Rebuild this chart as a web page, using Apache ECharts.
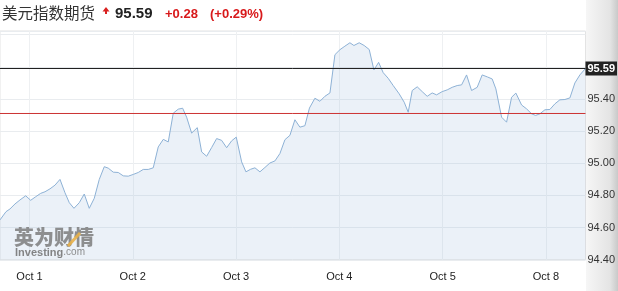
<!DOCTYPE html>
<html>
<head>
<meta charset="utf-8">
<script src="https://cdn.jsdelivr.net/npm/echarts@6/dist/echarts.min.js"></script>
<style>
html,body{margin:0;padding:0;background:#fff;}
#chart{width:618px;height:291px;}
</style>
</head>
<body>
<div id="chart"></div>
<script>
// ---- data ----
const titleText = '美元指数期货';
const lastPrice = 95.59;
const prevClose = 95.31;
const changeText = '+0.28';
const changePctText = '(+0.29%)';

// trading hours since Oct 1 00:00 (weekend compressed)
const times = [-6.85,-5.46,-4.53,-3.37,-2.21,-0.88,0.28,1.44,2.60,3.60,
4.76,5.92,7.09,8.25,9.25,10.34,11.57,12.73,13.89,15.05,
16.22,17.38,18.31,19.47,20.63,21.79,22.95,24.12,25.28,26.44,
27.60,28.76,29.92,31.09,32.25,33.41,34.57,35.59,36.52,37.68,
38.99,40.01,41.17,42.33,43.49,44.65,45.82,46.98,48.05,49.30,
50.30,51.39,52.39,53.55,54.71,55.87,57.04,58.20,59.36,60.52,
61.68,62.84,64.00,65.06,66.33,67.49,68.65,69.82,70.98,72.14,
73.30,74.46,75.39,76.62,77.78,78.95,80.04,81.13,82.20,83.36,
84.52,85.92,87.08,88.01,88.94,90.10,91.26,92.42,93.58,94.60,
95.90,97.07,98.23,99.39,100.41,101.57,102.73,104.04,105.20,106.45,
107.52,108.38,109.71,110.87,112.03,113.03,114.35,115.51,116.68,117.61,
118.61,119.77,120.93,122.09,123.25,124.42,125.58,126.74,127.90,129.2];

const prices = [94.648,94.699,94.716,94.747,94.772,94.798,94.770,94.792,94.813,94.823,
94.841,94.864,94.900,94.817,94.755,94.720,94.755,94.809,94.720,94.782,
94.900,94.979,94.970,94.945,94.943,94.922,94.920,94.931,94.943,94.962,
94.962,94.972,95.102,95.149,95.133,95.312,95.337,95.343,95.287,95.188,
95.222,95.071,95.044,95.098,95.154,95.143,95.097,95.140,95.163,95.009,
94.947,94.963,94.972,94.947,94.974,95.002,95.015,95.061,95.147,95.174,
95.271,95.225,95.234,95.344,95.405,95.386,95.417,95.438,95.676,95.707,
95.729,95.750,95.733,95.750,95.733,95.708,95.581,95.628,95.564,95.529,
95.484,95.432,95.380,95.318,95.453,95.476,95.446,95.417,95.438,95.426,
95.446,95.457,95.473,95.484,95.488,95.550,95.453,95.473,95.550,95.537,
95.525,95.463,95.287,95.256,95.411,95.437,95.363,95.339,95.308,95.298,
95.308,95.333,95.335,95.370,95.395,95.397,95.407,95.500,95.550,95.590];

const dayTicks = [0,24,48,72,96,120];
const dayLabels = ['Oct 1','Oct 2','Oct 3','Oct 4','Oct 5','Oct 8'];
const yTickLabels = ['94.40','94.60','94.80','95.00','95.20','95.40'];

// ---- chart ----
const chart = echarts.init(document.getElementById('chart'), null, {renderer:'canvas'});
const FONT = '"Liberation Sans", Arial, sans-serif';
const seriesData = times.map((t,i)=>[t, prices[i]]);
const xMin = times[0], xMax = times[times.length-1];

const option = {
  animation:false,
  backgroundColor:'#fff',
  textStyle:{fontFamily:FONT},
  grid:{left:0, right:32.5, top:31, bottom:31.25, show:true, backgroundColor:'#fff', borderColor:'#e3e3e3', borderWidth:1},
  xAxis:{
    type:'value', min:xMin, max:xMax,
    axisLine:{show:false},
    axisTick:{show:false, customValues:dayTicks},
    splitLine:{show:true, lineStyle:{color:'#eef0f2', width:1}},
    axisLabel:{customValues:dayTicks, color:'#222', fontSize:11, fontFamily:FONT, margin:12,
      formatter:(v)=>{const i=dayTicks.indexOf(v); return i>=0?dayLabels[i]:'';}}
  },
  yAxis:{
    type:'value', position:'right', min:94.4, max:95.8233, interval:0.2,
    axisLine:{show:false}, axisTick:{show:false},
    splitLine:{show:true, lineStyle:{color:'#e9ecef', width:1}},
    axisLabel:{color:'#333', fontSize:11, fontFamily:FONT, margin:2, showMaxLabel:false,
      formatter:(v)=>{const s=v.toFixed(2); return yTickLabels.indexOf(s)>=0?s:'';}}
  },
  series:[{
    type:'line', data:seriesData, showSymbol:false, smooth:false, z:2,
    lineStyle:{color:'#8db1d5', width:1},
    areaStyle:{color:'rgba(160,190,222,0.3)', origin:'start'}
  },{
    name:'prevClose', type:'line', data:[[xMin,prevClose],[xMax,prevClose]], showSymbol:false, z:3,
    lineStyle:{color:'#cc3333', width:1}, itemStyle:{color:'#cc3333'}
  },{
    name:'last', type:'line', data:[[xMin,lastPrice],[xMax,lastPrice]], showSymbol:false, z:4,
    lineStyle:{color:'#1e1e1e', width:1}, itemStyle:{color:'#1e1e1e'},
    endLabel:{show:true, distance:0, formatter:()=>lastPrice.toFixed(2),
      backgroundColor:'#222', color:'#fff', fontSize:11, fontWeight:'bold', fontFamily:FONT,
      padding:[2,2,1,2], borderRadius:0}
  }],
  graphic:[
    {type:'rect', z:-100, silent:true, shape:{x:586, y:0, width:32, height:291},
     style:{fill:new echarts.graphic.LinearGradient(0,0,1,0,[{offset:0,color:'#f6f6f6'},{offset:0.75,color:'#e4e4e4'},{offset:1,color:'#c9c9c9'}])}},
    {type:'text', left:2, top:5, style:{text:titleText, fill:'#333', font:'15.5px "Noto Sans CJK SC", sans-serif'}},
    {type:'polygon', shape:{points:[[102.5,11.5],[109.5,11.5],[106,7]]}, style:{fill:'#d9201f'}},
    {type:'rect', shape:{x:105,y:11,width:2,height:3}, style:{fill:'#d9201f'}},
    {type:'text', left:115, top:6, style:{text:lastPrice.toFixed(2), fill:'#222', font:'bold 15px "Liberation Sans", Arial, sans-serif'}},
    {type:'text', left:165, top:8, style:{text:changeText, fill:'#d8191b', font:'bold 13px "Liberation Sans", Arial, sans-serif'}},
    {type:'text', left:210, top:8, style:{text:changePctText, fill:'#d8191b', font:'bold 13px "Liberation Sans", Arial, sans-serif'}},
    // watermark
    {type:'text', z:100, left:14, top:227, style:{text:'英为财情', fill:'rgba(125,125,125,0.85)', font:'900 20px "Noto Sans CJK SC", sans-serif'}},
    {type:'line', z:101, shape:{x1:68,y1:246,x2:80,y2:233}, style:{stroke:'rgba(232,176,72,0.9)', lineWidth:3}},
    {type:'text', z:100, left:15, top:247, style:{rich:{a:{fontWeight:'bold',fontSize:11,fill:'rgba(120,120,120,0.9)',fontFamily:FONT},b:{fontSize:10,fill:'rgba(130,130,130,0.9)',fontFamily:FONT}}, text:'{a|Investing}{b|.com}'}}
  ]
};
chart.setOption(option);
</script>
</body>
</html>
